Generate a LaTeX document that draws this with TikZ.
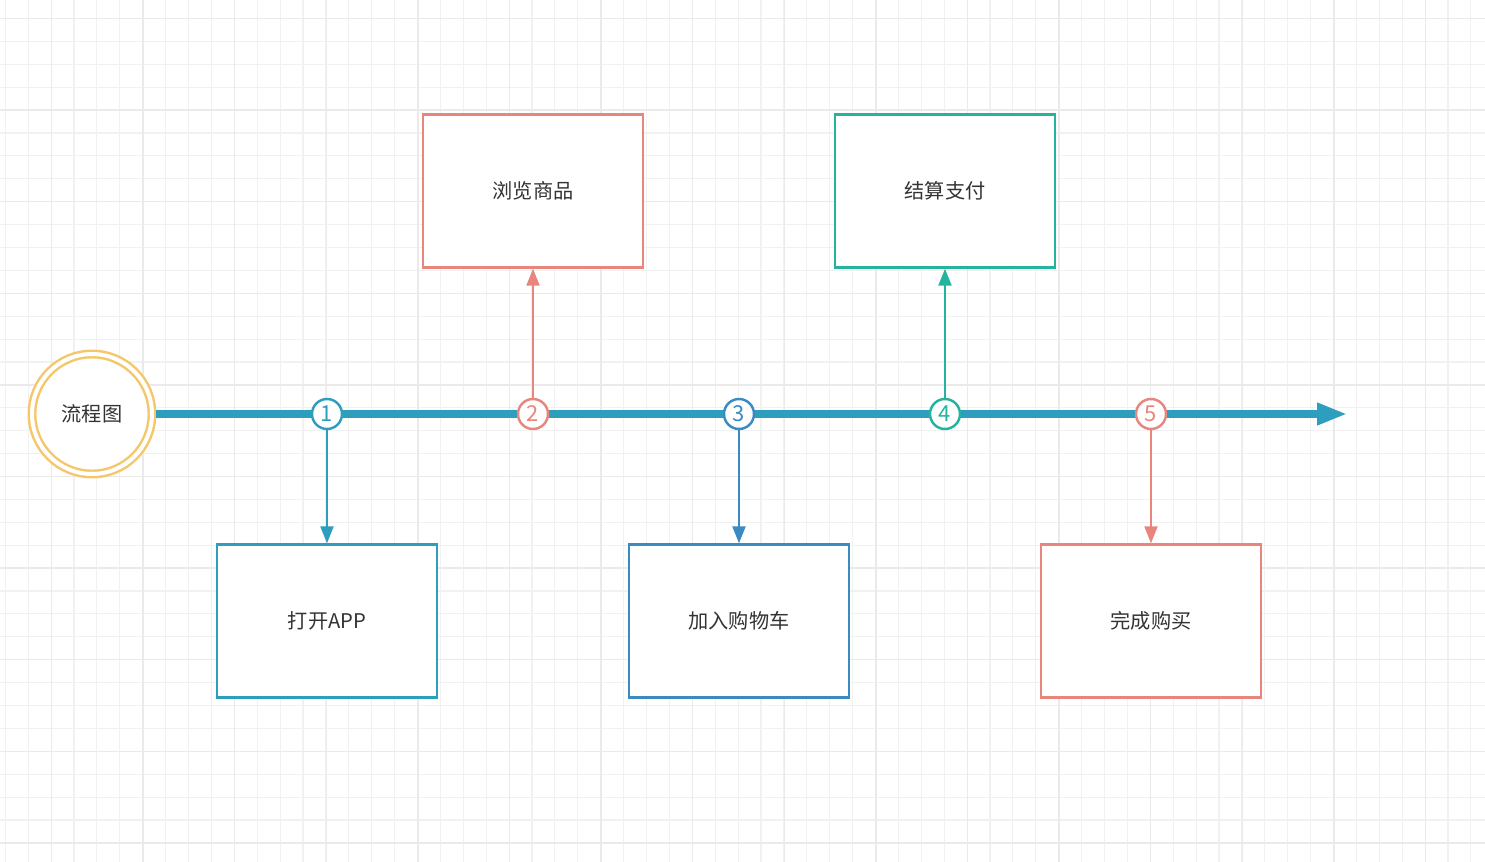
\documentclass[tikz,border=0pt]{standalone}
\usepackage{fontspec}
\setmainfont{Noto Sans CJK SC}
\usetikzlibrary{arrows.meta}
\definecolor{cblue}{HTML}{2E9EBF}
\definecolor{cdeep}{HTML}{3B8BC2}
\definecolor{cred}{HTML}{E8867E}
\definecolor{cgreen}{HTML}{24B39C}
\definecolor{cyellow}{HTML}{F5C76B}
\definecolor{textgray}{HTML}{333333}
\definecolor{gridminor}{HTML}{F1F1F1}
\definecolor{gridmajor}{HTML}{EAEAEA}

\begin{document}
\begin{tikzpicture}[x=0.02cm, y=-0.02cm,
		every node/.style={text=textgray, font=\fontsize{11.5}{13}\selectfont},
		minor/.style={draw=gridminor, line width=0.6pt},
		major/.style={draw=gridmajor, line width=0.8pt},
		ring/.style={circle, draw=cyellow, double=white, double distance=0.08cm, line width=1.4pt, fill=white, minimum size=2.4cm, inner sep=0pt, outer sep=0.09cm},
		mainline/.style={draw=cblue, line width=4pt, -{Triangle[length=0.6cm,width=0.42cm]}},
		marker/.style={circle, draw=#1, text=#1, fill=white, line width=1.4pt, minimum size=0.6cm, inner sep=0pt, font=\fontsize{12.5}{13}\selectfont},
		box/.style={rectangle, draw=#1, fill=white, line width=1.4pt, minimum width=4.4cm, minimum height=3.06cm},
		link/.style={draw=#1, line width=1.3pt, -{Triangle[length=0.34cm,width=0.26cm]}}]
		\useasboundingbox (0,0) rectangle (1485,862);
		\fill[white] (0,0) rectangle (1485,862);
		\foreach \i in {0,...,64} \draw[minor] ({5.3+22.9*\i},0) -- ++(0,862);
		\foreach \i in {0,...,37} \draw[minor] (0,{18.5+22.9*\i}) -- ++(1485,0);
		\foreach \i in {0,...,15} \draw[major] ({51.4+91.6*\i},0) -- ++(0,862);
		\foreach \i in {0,...,9} \draw[major] (0,{18.5+91.6*\i}) -- ++(1485,0);

		\path (92,414) node[ring] (start) {流程图};
		\coordinate (tip) at (1347,414);
		\draw[mainline] (start) -- (tip);

		\path (327,414) node[marker=cblue] (m1) {1}
		(533,414) node[marker=cred] (m2) {2}
		(739,414) node[marker=cdeep] (m3) {3}
		(945,414) node[marker=cgreen] (m4) {4}
		(1151,414) node[marker=cred] (m5) {5};

		\path (327,621) node[box=cblue] (b1) {打开APP}
		(533,191) node[box=cred] (b2) {浏览商品}
		(739,621) node[box=cdeep] (b3) {加入购物车}
		(945,191) node[box=cgreen] (b4) {结算支付}
		(1151,621) node[box=cred] (b5) {完成购买};

		\draw[link=cblue] (m1) -- (b1);
		\draw[link=cred] (m2) -- (b2);
		\draw[link=cdeep] (m3) -- (b3);
		\draw[link=cgreen] (m4) -- (b4);
		\draw[link=cred] (m5) -- (b5);
	\end{tikzpicture}
\end{document}
